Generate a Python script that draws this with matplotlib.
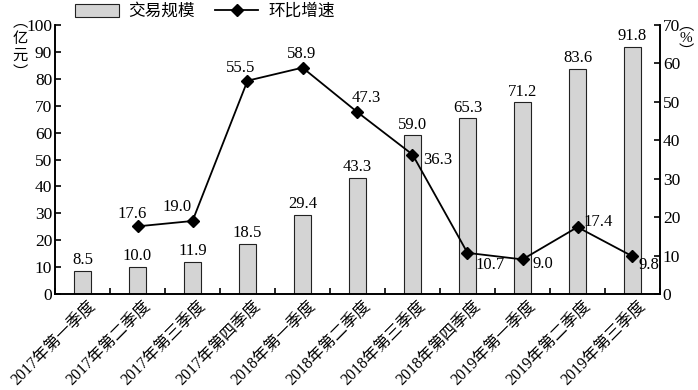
import matplotlib
matplotlib.use("Agg")
import matplotlib.pyplot as plt
import matplotlib.transforms as mtransforms
import numpy as np
from matplotlib.patches import Patch
from matplotlib.lines import Line2D

categories = ["2017年第一季度", "2017年第二季度", "2017年第三季度", "2017年第四季度",
              "2018年第一季度", "2018年第二季度", "2018年第三季度", "2018年第四季度",
              "2019年第一季度", "2019年第二季度", "2019年第三季度"]
scale = [8.5, 10.0, 11.9, 18.5, 29.4, 43.3, 59.0, 65.3, 71.2, 83.6, 91.8]
growth = [np.nan, 17.6, 19.0, 55.5, 58.9, 47.3, 36.3, 10.7, 9.0, 17.4, 9.8]

FONT = ["Liberation Serif", "Noto Sans CJK SC"]
plt.rcParams['font.family'] = FONT

fig = plt.figure(figsize=(6.98, 3.9), dpi=100)
ax = fig.add_axes([55/698, 1-294/390, 605/698, 269/390])
ax2 = ax.twinx()

x = np.arange(len(categories))
ax.bar(x, scale, width=0.3, color="#d4d4d4", edgecolor="#222222", linewidth=0.8, zorder=2)
for xi, v in zip(x, scale):
    ax.annotate(f"{v:.1f}", (xi, v), xytext=(0, 2), textcoords="offset points",
                ha="center", va="bottom", fontsize=12)

ax.set_xlim(-0.5, len(categories) - 0.5)
ax.set_ylim(0, 100)
ax.set_yticks(range(0, 101, 10))
ax2.set_ylim(0, 70)
ax2.set_yticks(range(0, 71, 10))

ax2.plot(x, growth, color="black", lw=1.3, marker="D", ms=6, zorder=3)

offsets = {1: (-4, 9), 2: (-11, 10), 3: (-5, 9.5), 4: (-1, 10), 5: (6.5, 10),
           6: (18, -3.6), 7: (16.5, -8.6), 8: (15, -3.6), 9: (15, 3.6), 10: (11.5, -6.5)}
for i, (dx, dy) in offsets.items():
    ax2.annotate(f"{growth[i]:.1f}", (x[i], growth[i]), xytext=(dx, dy),
                 textcoords="offset points", ha="center", va="center", fontsize=12)

for a in (ax, ax2):
    a.spines["top"].set_visible(False)
    for s in a.spines.values():
        s.set_linewidth(1.2)
ax.tick_params(axis="y", direction="in", length=4, width=1.2, labelsize=12.5, pad=2)
ax2.tick_params(axis="y", direction="in", length=4, width=1.2, labelsize=12.5, pad=2)
ax.set_xticks(x)
ax.set_xticklabels(categories, rotation=45, ha="right", va="top",
                   rotation_mode="anchor", fontsize=11.5)
ax.tick_params(axis="x", which="major", length=0, pad=3)
shift = mtransforms.ScaledTranslation(5/100, 0, fig.dpi_scale_trans)
for lab in ax.get_xticklabels():
    lab.set_transform(lab.get_transform() + shift)
ax.set_xticks(np.arange(-0.5, len(categories), 1.0), minor=True)
ax.tick_params(axis="x", which="minor", direction="in", length=4, width=1.2)

fig.text(20/698, 1-47/390, "︵\n亿\n元\n︶", ha="center", va="center", fontsize=11,
         linespacing=1.0, family=["Noto Sans CJK SC"])
fig.text(686/698, 1-39/390, "︵\n%\n︶", ha="center", va="center", fontsize=11,
         linespacing=1.0, family=["Liberation Serif", "Noto Sans CJK SC"])

handles = [Patch(facecolor="#d4d4d4", edgecolor="#222222", linewidth=0.8),
           Line2D([0], [0], color="black", lw=1.3, marker="D", ms=6)]
fig.legend(handles, ["交易规模", "环比增速"], loc="center", bbox_to_anchor=(205/698, 1-12/390),
           ncol=2, frameon=False, fontsize=12, handlelength=2.6, handleheight=0.8,
           columnspacing=1.2, handletextpad=0.6, borderpad=0)

fig.savefig("out.png", dpi=100)
